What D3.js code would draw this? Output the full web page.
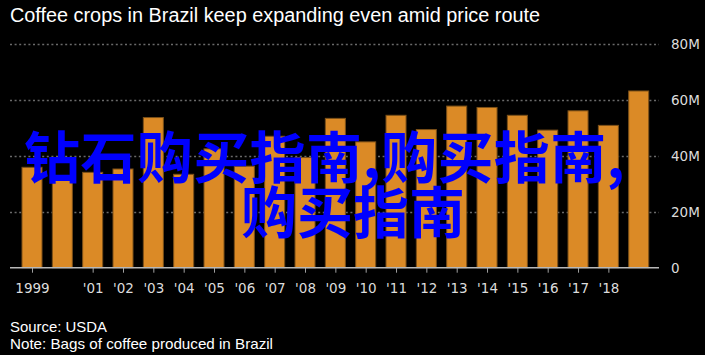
<!DOCTYPE html>
<html>
<head>
<meta charset="utf-8">
<script src="https://cdn.jsdelivr.net/npm/d3@7"></script>
<style>
  html, body { margin: 0; padding: 0; background: #000; }
  svg { display: block; }
</style>
</head>
<body>
<script>
// ---- data ----
const years = [1999,2000,2001,2002,2003,2004,2005,2006,2007,2008,2009,2010,2011,2012,2013,2014,2015,2016,2017,2018,2019];
const bags  = [35.9,31.6,34.1,35.3,53.7,33.4,42.5,36.3,47.0,39.4,53.4,45.0,54.5,49.4,57.8,57.3,54.5,49.2,56.1,50.9,63.2]; // million bags
const labeledYears = [1999,2001,2002,2003,2004,2005,2006,2007,2008,2009,2010,2011,2012,2013,2014,2015,2016,2017,2018];
const yTicks = [0,20,40,60,80];
const title = "Coffee crops in Brazil keep expanding even amid price route";
const source = "Source: USDA";
const note = "Note: Bags of coffee produced in Brazil";
const overlayLine1 = "钻石购买指南,购买指南,";
const overlayLine2 = "购买指南";

const W = 705, H = 355;
const svg = d3.select("body").append("svg").attr("width", W).attr("height", H);
svg.append("rect").attr("width", W).attr("height", H).attr("fill", "#000");

const x = d3.scalePoint().domain(years).range([32, 638.7]);
const bw = x.step() * 0.66;
const y = d3.scaleLinear().domain([0, 80]).range([267.7, 44]);
const plotL = 10, plotR = 659;

// title
svg.append("text").attr("x", 10).attr("y", 22)
  .attr("fill", "#fff")
  .attr("font-family", "'Liberation Sans Narrow', 'Arial Narrow', 'Liberation Sans', Arial, sans-serif")
  .attr("font-size", 20)
  .attr("textLength", 530).attr("lengthAdjust", "spacingAndGlyphs")
  .text(title);

// gridlines
svg.append("g").selectAll("line").data(yTicks.filter(d => d > 0)).join("line")
  .attr("x1", plotL).attr("x2", plotR)
  .attr("y1", d => Math.round(y(d)) + 0.5).attr("y2", d => Math.round(y(d)) + 0.5)
  .attr("stroke", "#6a6a6a").attr("stroke-width", 1.3).attr("stroke-dasharray", "2,2.6");

// y axis labels (right)
const yAxis = d3.axisRight(y).tickValues(yTicks).tickSize(0).tickPadding(0)
  .tickFormat(d => d === 0 ? "0" : d + "M");
const gy = svg.append("g").attr("transform", `translate(671,0)`).call(yAxis);
gy.select(".domain").remove();
gy.selectAll("text").attr("fill", "#dcdcdc")
  .attr("font-family", "'DejaVu Sans', Verdana, sans-serif").attr("font-size", 13.5);

// bars
svg.append("g").selectAll("rect").data(years).join("rect")
  .attr("x", (d) => x(d) - bw / 2)
  .attr("width", bw)
  .attr("y", (d, i) => y(bags[i]))
  .attr("height", (d, i) => y(0) - y(bags[i]))
  .attr("fill", "#db8a26")
  .attr("stroke", "#7c5018").attr("stroke-width", 1);

// x axis
const xAxis = d3.axisBottom(x).tickValues(labeledYears).tickSize(5).tickPadding(11)
  .tickFormat(d => d === 1999 ? "1999" : "'" + String(d).slice(2));
const gx = svg.append("g").attr("transform", `translate(0,${y(0)})`).call(xAxis);
gx.select(".domain").remove();
gx.selectAll(".tick line").attr("stroke", "#a0a0a0");
gx.selectAll("text").attr("fill", "#dcdcdc")
  .attr("font-family", "'DejaVu Sans', Verdana, sans-serif").attr("font-size", 13.5);

svg.append("line").attr("x1", plotL).attr("x2", plotR)
  .attr("y1", y(0)).attr("y2", y(0))
  .attr("stroke", "#b8b8b8").attr("stroke-width", 1.5);

// footer
const ff = "'Liberation Sans Narrow', 'Arial Narrow', 'Liberation Sans', Arial, sans-serif";
svg.append("text").attr("x", 10).attr("y", 332).attr("fill", "#fff")
  .attr("font-family", ff).attr("font-size", 15)
  .attr("textLength", 97).attr("lengthAdjust", "spacingAndGlyphs").text(source);
svg.append("text").attr("x", 10).attr("y", 349).attr("fill", "#fff")
  .attr("font-family", ff).attr("font-size", 15)
  .attr("textLength", 263).attr("lengthAdjust", "spacingAndGlyphs").text(note);

// overlay text
const ov = svg.append("g")
  .attr("font-family", "'Noto Sans CJK SC', sans-serif")
  .attr("font-weight", "bold").attr("font-size", 56).attr("fill", "#0000fe");
ov.append("text").attr("x", 24).attr("y", 178).attr("letter-spacing", 0.4).text(overlayLine1);
ov.append("text").attr("x", 241).attr("y", 233).text(overlayLine2);
</script>
</body>
</html>
